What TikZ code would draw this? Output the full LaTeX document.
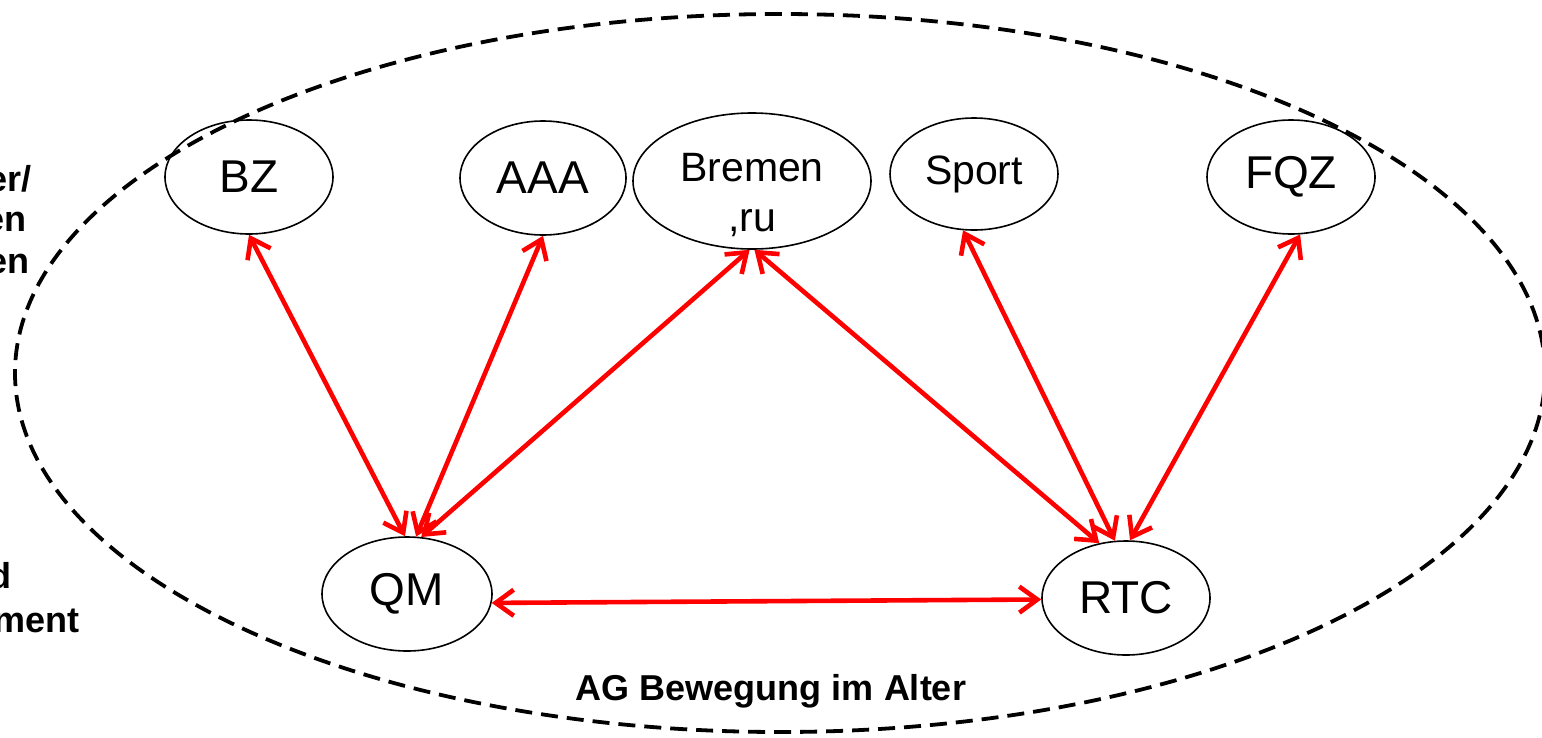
\documentclass[tikz,border=0pt]{standalone}
\usepackage{fontspec}
\setmainfont{Liberation Sans}
\usetikzlibrary{arrows.meta,shapes.geometric}
\begin{document}
\begin{tikzpicture}[x=1pt,y=-1pt,
  orgnode/.style={draw=black, line width=1.6pt, ellipse, inner sep=0pt,
    minimum width=168pt, minimum height=114pt, font=\fontsize{46}{55}\selectfont},
  orgsmall/.style={orgnode, font=\fontsize{41}{50}\selectfont, align=center},
  nodetext/.style={inner sep=0pt, font=\fontsize{41}{50}\selectfont, align=center},
  link/.style={draw=red, line width=4.6pt,
    {Straight Barb[length=18pt,width=26pt]}-{Straight Barb[length=18pt,width=26pt]}},
  boundary/.style={draw=black, line width=3.8pt, dash pattern=on 17pt off 9pt},
  sidetext/.style={inner sep=0pt, anchor=base east, font=\bfseries\fontsize{36}{42}\selectfont},
  grouplabel/.style={inner sep=0pt, anchor=base, font=\bfseries\fontsize{36}{42}\selectfont}
]
\useasboundingbox (0,0) rectangle (1542,737);

% outer dashed boundary
\draw[boundary] (780,373) ellipse [x radius=765pt, y radius=359pt];

% nodes
\node[orgnode] (bz) at (249,177) {BZ};
\node[orgnode, minimum width=166pt] (aaa) at (543,178) {AAA};
\node[orgsmall, minimum width=238pt, minimum height=136pt] (bremen) at (752,181) {};
\node[nodetext] (brementext) at (752,195) {Bremen\\,ru};
\node[orgsmall, minimum height=112pt] (sport) at (974,174) {Sport};
\node[orgnode] (fqz) at (1291,177) {FQZ};
\node[orgnode, minimum width=170pt] (qm) at (407,594) {QM};
\node[orgnode] (rtc) at (1126,598) {RTC};

% connectors
\draw[link] (bz.south) -- (qm.92);
\draw[link] (aaa.south) -- (qm.81);
\draw[link] (bremen.268) -- (qm.76);
\draw[link] (bremen.272) -- (rtc.116);
\draw[link] (sport.259) -- (rtc.101);
\draw[link] (fqz.279) -- (rtc.86);
\draw[link] (qm.-6) -- (rtc.181);

% labels
\node[grouplabel] (ag) at (771,700) {AG Bewegung im Alter};
\node[sidetext] (l1) at (32,191) {er/};
\node[sidetext] (l2) at (27,231) {en};
\node[sidetext] (l3) at (30,273) {en};
\node[sidetext] (l4) at (12,588) {d};
\node[sidetext] (l5) at (80,632) {ment};
\end{tikzpicture}
\end{document}
